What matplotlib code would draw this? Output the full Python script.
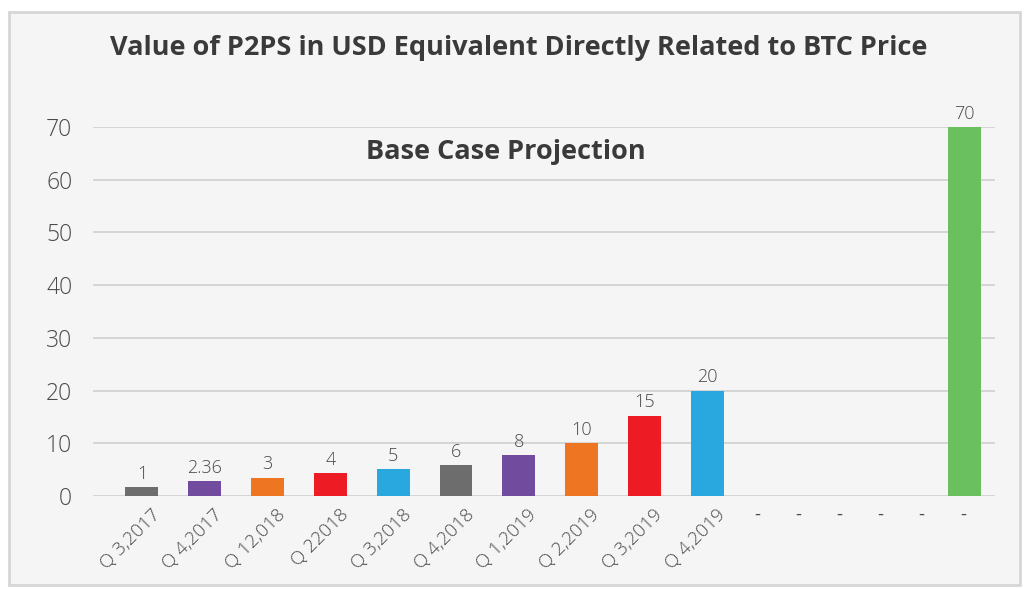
import numpy as np
import matplotlib
matplotlib.use("Agg")
from matplotlib import pyplot as plt
from matplotlib.patches import Rectangle

# data
quarters = ["Q 3,2017", "Q 4,2017", "Q 12,018", "Q 22018", "Q 3,2018",
            "Q 4,2018", "Q 1,2019", "Q 2,2019", "Q 3,2019", "Q 4,2019"]
dash_labels = ["-", "-", "-", "-", "-", "-"]
heights = [1.7, 2.8, 3.5, 4.35, 5.05, 5.8, 7.75, 10, 15.25, 20, 70]
value_labels = ["1", "2.36", "3", "4", "5", "6", "8", "10", "15", "20", "70"]
colors = ["#6d6d6d", "#714c9e", "#ee7623", "#ed1c24", "#29a8e0",
          "#6d6d6d", "#714c9e", "#ee7623", "#ed1c24", "#29a8e0", "#6abf5e"]
yticks = [0, 10, 20, 30, 40, 50, 60, 70]

bg = "#f5f5f5"
txt = "#3a3a3a"

fig = plt.figure(figsize=(10.26, 5.89), dpi=100, facecolor="white")
fig.patches.append(Rectangle((9 / 1026, 1 - 585 / 589), 1011 / 1026, 573 / 589,
                             transform=fig.transFigure, facecolor=bg,
                             edgecolor="#d6d6d6", linewidth=2, zorder=-1))

ax = fig.add_axes([93 / 1026, 1 - 496 / 589, 902 / 1026, 369 / 589])
ax.set_facecolor(bg)
ax.patch.set_alpha(0)

# bar positions: quarters on a unit step, dashes on a tighter step
xq = np.arange(len(quarters))
xd = 9.79 + 0.656 * np.arange(len(dash_labels))
xb = np.concatenate([xq, [xd[-1] + 0.02]])

bars = ax.bar(xb, heights, width=0.525, color=colors, zorder=3)
for b, lab in zip(bars, value_labels):
    ax.text(b.get_x() + b.get_width() / 2, b.get_height() + 0.8, lab,
            ha="center", va="bottom", fontsize=13, color="#4a4a4a",
            fontweight="light", family="Open Sans", clip_on=False)

ax.set_xlim(-0.78, 13.583)
ax.set_ylim(0, 70)
ax.set_yticks(yticks)
ax.yaxis.grid(True, color="#cfcfcf", linewidth=1.2, zorder=0)
ax.tick_params(axis="y", length=0, pad=15, labelsize=16.5, labelcolor="#4a4a4a")
for t in ax.get_yticklabels():
    t.set_family("Open Sans")
    t.set_fontweight("light")
for s in ax.spines.values():
    s.set_visible(False)

ax.set_xticks(np.concatenate([xq + 0.14, xd]))
ax.set_xticklabels(quarters + dash_labels)
ax.tick_params(axis="x", length=0, pad=7, labelsize=13.5, labelcolor="#4a4a4a")
for i, t in enumerate(ax.get_xticklabels()):
    t.set_family("Open Sans")
    t.set_fontweight("light")
    if i < len(quarters):
        t.set_rotation(45)
        t.set_ha("right")
        t.set_rotation_mode("anchor")
    else:
        t.set_va("top")
        t.set_fontweight("normal")

fig.text(519 / 1026, 1 - 48 / 589,
         "Value of P2PS in USD Equivalent Directly Related to BTC Price",
         ha="center", va="center", fontsize=19.5, fontweight="bold",
         color=txt, family="Open Sans")
fig.text(506 / 1026, 1 - 152 / 589, "Base Case Projection",
         ha="center", va="center", fontsize=19.5, fontweight="bold",
         color=txt, family="Open Sans")

fig.savefig("out.png", dpi=100, facecolor="white")
